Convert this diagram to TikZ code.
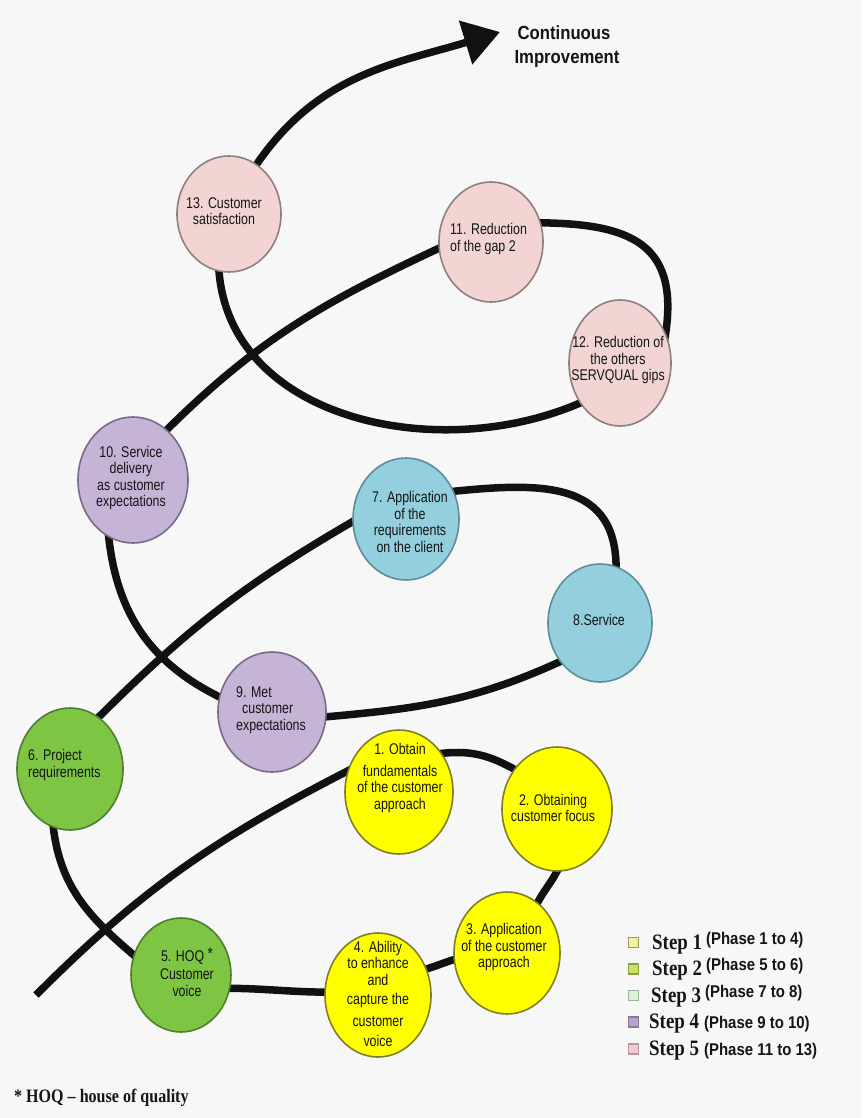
\documentclass[tikz,border=0pt]{standalone}
\usepackage{fontspec}
\setmainfont{Liberation Sans}
\newfontfamily\nodefont[FakeStretch=0.8]{Liberation Sans}
\newfontfamily\titlefont[FakeStretch=0.88]{Liberation Sans}
\newfontfamily\stepfont[FakeStretch=0.86]{Liberation Serif}
\newfontfamily\phasefont[FakeStretch=0.88]{Liberation Sans}
\newfontfamily\notefont[FakeStretch=0.845]{Liberation Serif}
\usetikzlibrary{shapes.geometric,arrows.meta}
\pgfdeclarelayer{back}
\pgfdeclarelayer{lines}
\pgfsetlayers{back,lines,main}
\definecolor{bgC}{HTML}{F7F7F7}
\definecolor{curveC}{HTML}{111111}
\definecolor{txtC}{HTML}{151515}
\definecolor{pinkF}{HTML}{F2D4D3}
\definecolor{pinkD}{HTML}{8E7F80}
\definecolor{purpF}{HTML}{C5B4D6}
\definecolor{purpD}{HTML}{7A6B8A}
\definecolor{blueF}{HTML}{93CFDD}
\definecolor{blueD}{HTML}{5E8E9A}
\definecolor{greenF}{HTML}{7DC543}
\definecolor{greenD}{HTML}{4E7F2C}
\definecolor{yelF}{HTML}{FFFF00}
\definecolor{yelD}{HTML}{7F7F2A}
\definecolor{lg1F}{HTML}{F3F1A6}\definecolor{lg1D}{HTML}{9A9A55}
\definecolor{lg2F}{HTML}{C9E26A}\definecolor{lg2D}{HTML}{88A040}
\definecolor{lg3F}{HTML}{DAF2DA}\definecolor{lg3D}{HTML}{9AB59A}
\definecolor{lg4F}{HTML}{B9A3CC}\definecolor{lg4D}{HTML}{8A7A9A}
\definecolor{lg5F}{HTML}{F2C9CD}\definecolor{lg5D}{HTML}{B09A9D}
\begin{document}
\begin{tikzpicture}[x=1pt,y=1pt,
  phasebox/.style={ellipse, line width=1.6pt, inner sep=0pt},
  pinkph/.style={phasebox, fill=pinkF, draw=pinkD},
  purpph/.style={phasebox, fill=purpF, draw=purpD},
  blueph/.style={phasebox, fill=blueF, draw=blueD},
  greenph/.style={phasebox, fill=greenF, draw=greenD},
  yelph/.style={phasebox, fill=yelF, draw=yelD},
  lbl/.style={font=\nodefont\fontsize{15.5}{16.5}\selectfont, text=txtC, align=center, inner sep=0pt},
  curve/.style={line width=7.5pt, draw=curveC, shorten <=-8pt, shorten >=-8pt},
  legsq/.style={rectangle, minimum size=10pt, inner sep=0pt, line width=1.2pt},
  legtxt/.style={anchor=base west, inner sep=0pt, text=txtC},
  titletxt/.style={anchor=base, inner sep=0pt, text=txtC, font=\titlefont\bfseries\fontsize{19}{22}\selectfont},
  stp/.style={font=\stepfont\bfseries\fontsize{22}{22}\selectfont},
]
\begin{pgfonlayer}{back}
\fill[bgC] (0,0) rectangle (862,-1118);
\end{pgfonlayer}
\useasboundingbox (0,0) rectangle (862,-1118);

% phases (ellipses)
\node[pinkph, minimum width=104pt, minimum height=116pt] (n13) at (229,-214) {};
\node[pinkph, minimum width=104pt, minimum height=120pt] (n11) at (491,-242) {};
\node[pinkph, minimum width=102pt, minimum height=126pt] (n12) at (620,-363) {};
\node[purpph, minimum width=110pt, minimum height=126pt] (n10) at (133,-480) {};
\node[blueph, minimum width=106pt, minimum height=122pt] (n7) at (406,-519) {};
\node[blueph, minimum width=104pt, minimum height=118pt] (n8) at (600,-623) {};
\node[purpph, minimum width=108pt, minimum height=120pt] (n9) at (272,-712) {};
\node[greenph, minimum width=106pt, minimum height=122pt] (n6) at (70,-769) {};
\node[yelph, minimum width=108pt, minimum height=124pt] (n1) at (399,-792) {};
\node[yelph, minimum width=110pt, minimum height=124pt] (n2) at (557,-809) {};
\node[yelph, minimum width=106pt, minimum height=122pt] (n3) at (507,-953) {};
\node[yelph, minimum width=106pt, minimum height=124pt] (n4) at (378,-995) {};
\node[greenph, minimum width=100pt, minimum height=114pt] (n5) at (181,-975) {};

% labels
\node[lbl] (t13) at (224,-211) {13. Customer\\satisfaction};
\node[lbl, align=left, anchor=west] (t11) at (450,-239) {11. Reduction\\of the gap 2};
\node[lbl] (t12) at (618,-360) {12. Reduction of\\the others\\SERVQUAL gips};
\node[lbl] (t10) at (131,-478) {10. Service\\delivery\\as customer\\expectations};
\node[lbl] (t7) at (410,-522) {7. Application\\of the\\requirements\\on the client};
\node[lbl] (t8) at (599,-620) {8.Service};
\node[lbl, align=left, anchor=west] (t9) at (236,-710) {9. Met\\\hspace*{6pt}customer\\expectations};
\node[lbl, align=left, anchor=west] (t6) at (28,-765) {6. Project\\requirements};
\node[lbl] (t1) at (400,-778) {1. Obtain\\[5pt]fundamentals\\of the customer\\approach};
\node[lbl] (t2) at (553,-808) {2. Obtaining\\customer focus};
\node[lbl] (t3) at (504,-947) {3. Application\\of the customer\\approach};
\node[lbl] (t4) at (378,-994) {4. Ability\\to enhance\\and\\[3pt]capture the\\[5pt]customer\\[4pt]voice};
\node[lbl] (t5) at (187,-972) {5. HOQ \raisebox{2pt}{\fontsize{17}{17}\selectfont *}\\[2pt]Customer\\voice};

% the spiral
\coordinate (S) at (36,-995);
\coordinate (E) at (500,-32);
\begin{pgfonlayer}{lines}
\draw[curve, shorten <=0pt] (S) to[out=45,in=207] (n1.158);
\draw[curve] (n1.42) to[out=8,in=150] (n2.137);
\draw[curve] (n2.270) to[out=245,in=65] (n3.59);
\draw[curve] (n3.187) to[out=195,in=15] (n4.28);
\draw[curve] (n4.177) to[out=180,in=0] (n5.345);
\draw[curve] (n5.157) to[out=140,in=275] (n6.254);
\draw[curve] (n6.61) to[out=45,in=210] (n7.183);
\draw[curve] (n7.30) to[out=6,in=88,looseness=1.25] (n8.74);
\draw[curve] (n8.224) to[out=205,in=5] (n9.355);
\draw[curve] (n9.164) to[out=155,in=275] (n10.247);
\draw[curve] (n10.56) to[out=45,in=205] (n11.187);
\draw[curve] (n11.21) to[out=0,in=80,looseness=1.4] (n12.33);
\draw[curve] (n12.225) to[out=205,in=272] (n13.260);
\draw[curve, shorten >=0pt, -{Triangle[length=36pt,width=44pt]}] (n13.61) to[out=57,in=197] (E);
\end{pgfonlayer}

% title
\node[titletxt] (ci1) at (564,-40) {Continuous};
\node[titletxt] (ci2) at (567,-63.5) {Improvement};

% legend
\node[legsq, fill=lg1F, draw=lg1D] (sq1) at (633.5,-942.6) {};
\node[legsq, fill=lg2F, draw=lg2D] (sq2) at (633.5,-968.9) {};
\node[legsq, fill=lg3F, draw=lg3D] (sq3) at (633.5,-995.7) {};
\node[legsq, fill=lg4F, draw=lg4D] (sq4) at (633.5,-1022) {};
\node[legsq, fill=lg5F, draw=lg5D] (sq5) at (633.5,-1049) {};
\node[legtxt] (lg1) at (652,-949) {{\stepfont\bfseries\fontsize{22}{22}\selectfont Step 1}\hspace{4pt}\raisebox{5pt}{\phasefont\bfseries\fontsize{17}{17}\selectfont (Phase 1 to 4)}};
\node[legtxt] (lg2) at (652,-975.5) {{\stepfont\bfseries\fontsize{22}{22}\selectfont Step 2}\hspace{4pt}\raisebox{5pt}{\phasefont\bfseries\fontsize{17}{17}\selectfont (Phase 5 to 6)}};
\node[legtxt] (lg3) at (651,-1002) {{\stepfont\bfseries\fontsize{22}{22}\selectfont Step 3}\hspace{4pt}\raisebox{5pt}{\phasefont\bfseries\fontsize{17}{17}\selectfont (Phase 7 to 8)}};
\node[legtxt] (lg4) at (649,-1028.5) {{\stepfont\bfseries\fontsize{22}{22}\selectfont Step 4}\hspace{5pt}{\phasefont\bfseries\fontsize{17}{17}\selectfont (Phase 9 to 10)}};
\node[legtxt] (lg5) at (649,-1055.5) {{\stepfont\bfseries\fontsize{22}{22}\selectfont Step 5}\hspace{5pt}{\phasefont\bfseries\fontsize{17}{17}\selectfont (Phase 11 to 13)}};

% footnote
\node[legtxt] (note) at (14,-1102.7) {\notefont\bfseries\fontsize{19}{19}\selectfont * HOQ – house of quality};
\end{tikzpicture}
\end{document}
